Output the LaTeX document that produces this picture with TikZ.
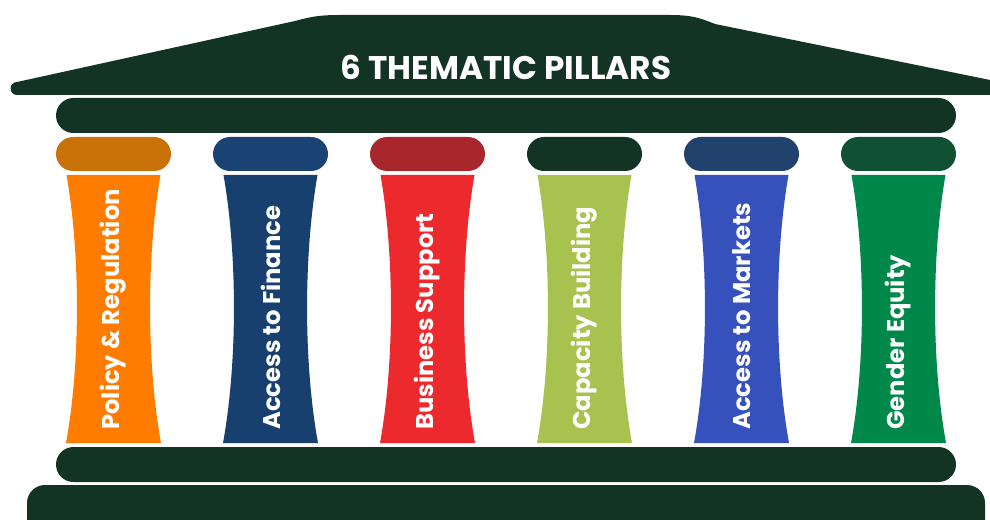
\documentclass[tikz,border=0pt]{standalone}
\usepackage{fontspec}
\setmainfont{Poppins}
\usepackage{tikz}

\definecolor{roofgreen}{HTML}{133324}
\definecolor{capA}{HTML}{C97208}
\definecolor{shaftA}{HTML}{FF7C00}
\definecolor{capB}{HTML}{1A4273}
\definecolor{shaftB}{HTML}{17406F}
\definecolor{capC}{HTML}{A8272C}
\definecolor{shaftC}{HTML}{EC2A2D}
\definecolor{capD}{HTML}{133324}
\definecolor{shaftD}{HTML}{A8C24F}
\definecolor{capE}{HTML}{22426E}
\definecolor{shaftE}{HTML}{3650BC}
\definecolor{capF}{HTML}{0F5132}
\definecolor{shaftF}{HTML}{00874A}

\tikzset{
  beam/.style={fill=roofgreen, rounded corners=0.35cm},
  capital/.style={rounded corners=0.34cm},
  pilltext/.style={text=white, font=\bfseries\fontsize{13.8}{16}\selectfont, rotate=90, anchor=west, inner sep=0pt},
}

\begin{document}
\begin{tikzpicture}[x=0.02cm, y=-0.02cm]
    \useasboundingbox (0,0) rectangle (990,520);
    % roof
    \fill[roofgreen] (17,95) -- (995,95) -- (995,81) -- (715,24)
      .. controls (700,18) and (692,15) .. (670,15) -- (340,15)
      .. controls (318,15) and (310,17) .. (295,21) -- (17,82)
      arc[start angle=-90, end angle=-270, radius=6.5] -- cycle;
    \node[text=white, font=\bfseries\fontsize{18.6}{22}\selectfont] (title) at (506,67) {6 THEMATIC PILLARS};
    % beams
    \fill[beam] (56,98) rectangle (956,133);
    \fill[beam] (56,447) rectangle (956,482);
    \fill[beam, rounded corners=0.36cm] (27,485) rectangle (985,540);
    % pillars
    \foreach \i/\capcol/\shaftcol/\lbl in {0/capA/shaftA/{Policy \& Regulation},
        1/capB/shaftB/{Access to Finance}, 2/capC/shaftC/{Business Support},
        3/capD/shaftD/{Capacity Building}, 4/capE/shaftE/{Access to Markets},
        5/capF/shaftF/{Gender Equity}} {
      \pgfmathsetmacro{\c}{113.5+157*\i}
      \fill[capital, \capcol] ({\c-57.5},137) rectangle ({\c+57.5},171);
      \fill[\shaftcol] ({\c-47},175) -- ({\c+47},175)
        .. controls ({\c+33},255) and ({\c+33},363) .. ({\c+47.5},443)
        -- ({\c-47.5},443)
        .. controls ({\c-33},363) and ({\c-33},255) .. ({\c-47},175) -- cycle;
      \node[pilltext] (pillar\i) at (\c,430) {\lbl};
    }
\end{tikzpicture}
\end{document}
